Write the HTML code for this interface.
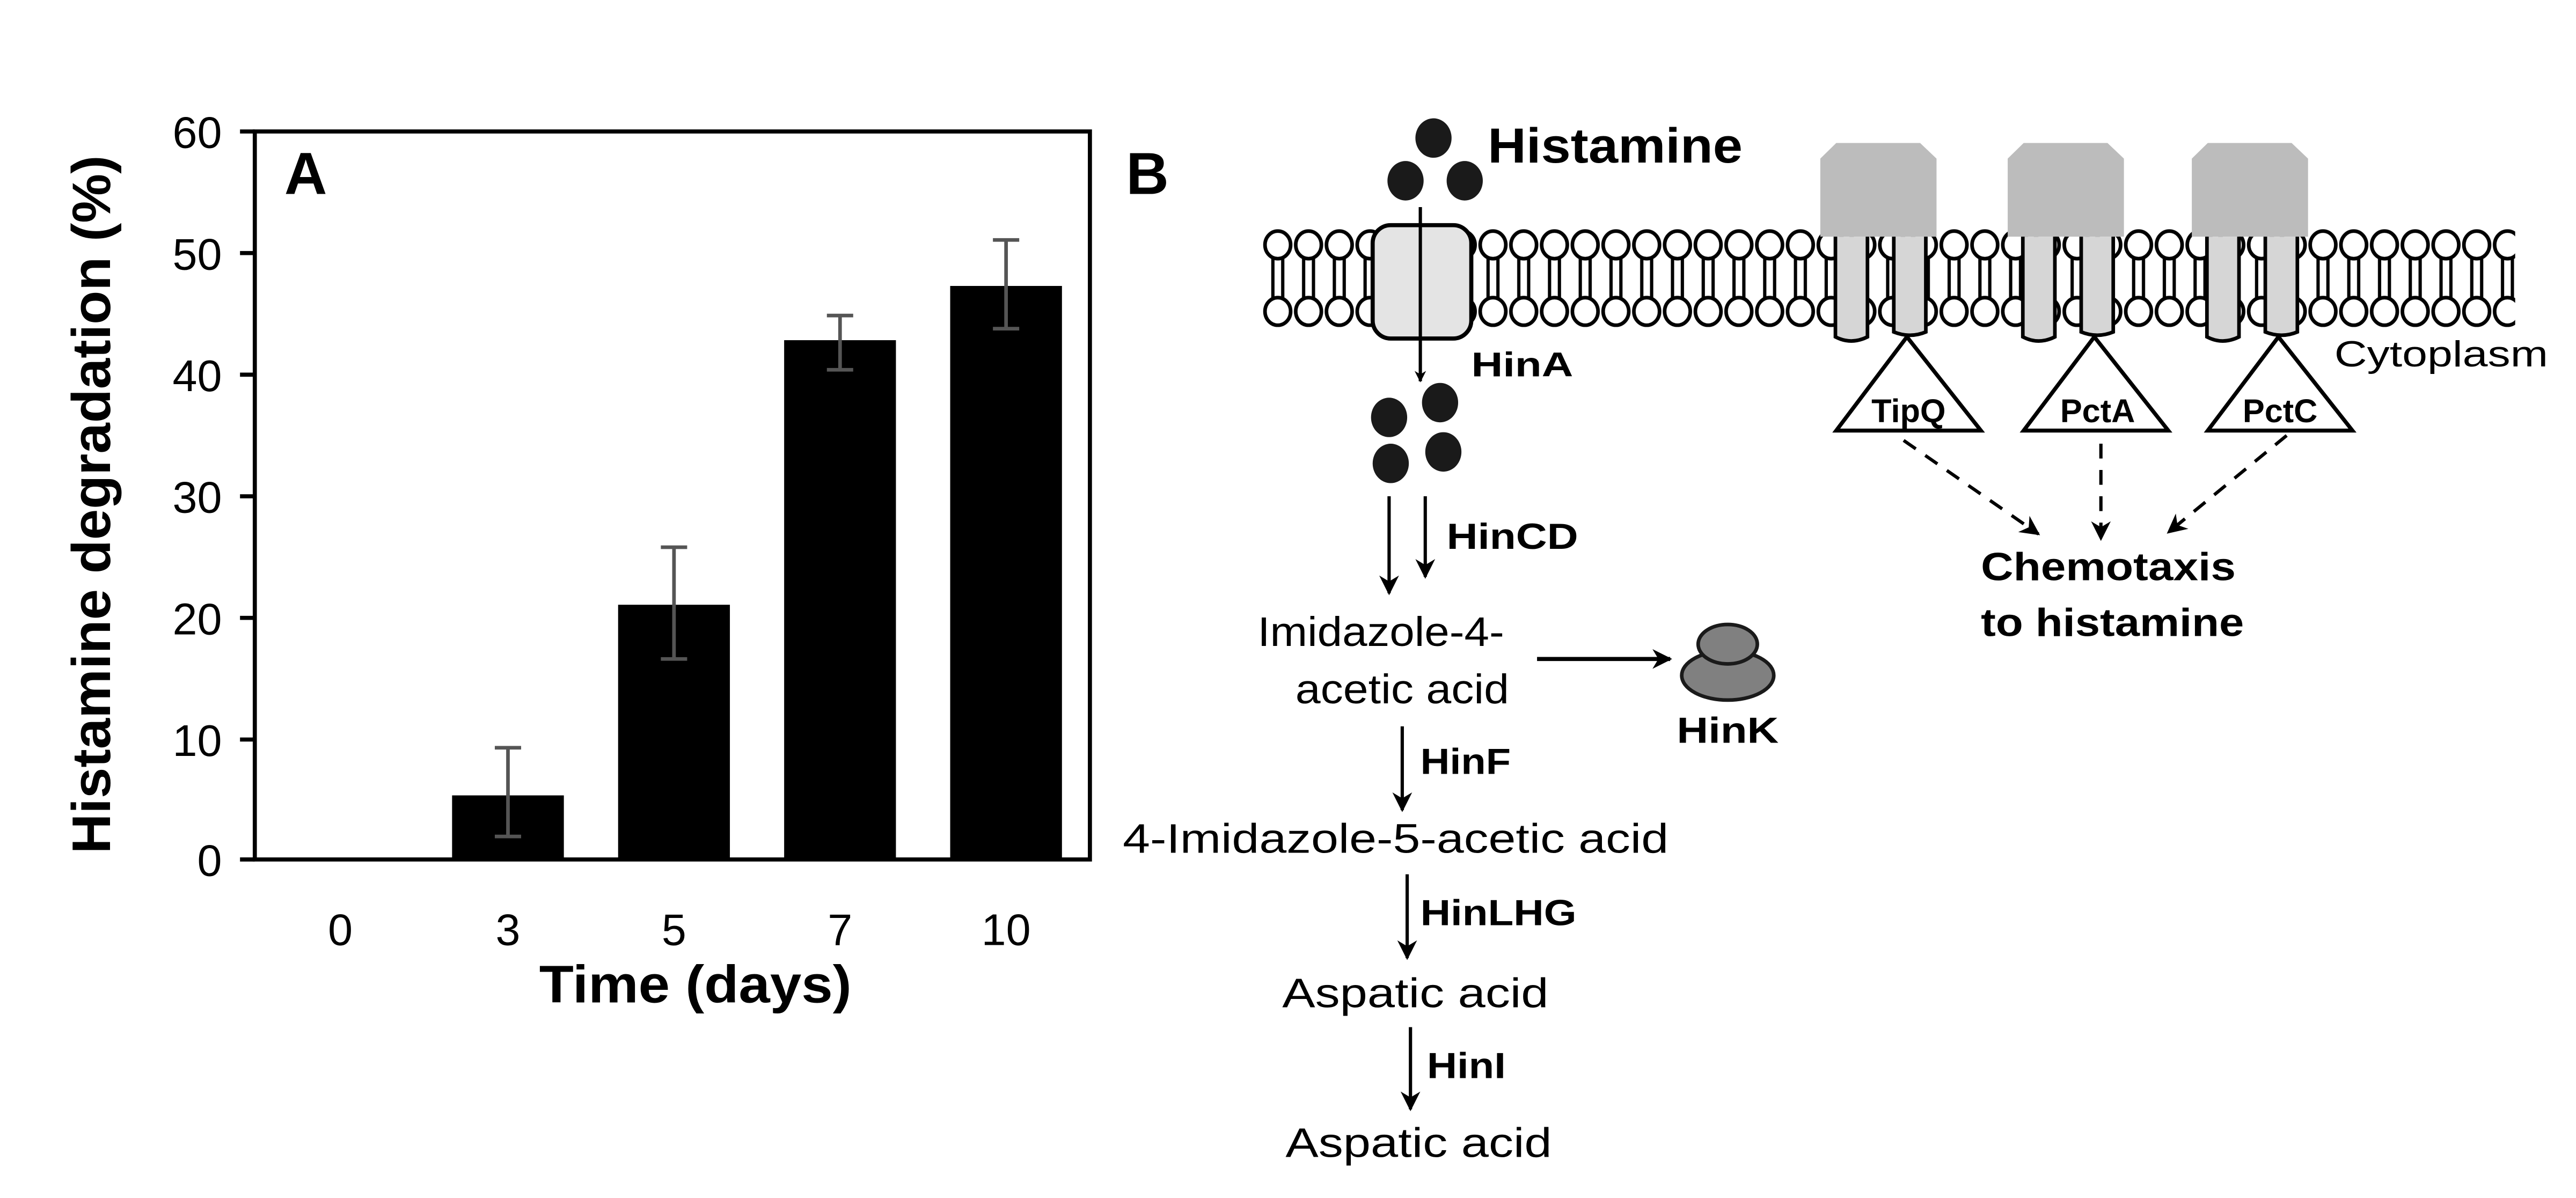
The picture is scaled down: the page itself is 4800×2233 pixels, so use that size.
<!DOCTYPE html>
<html><head><meta charset="utf-8"><style>html,body{margin:0;padding:0;background:#fff}svg{display:block}</style></head>
<body>
<svg width="4800" height="2233" viewBox="0 0 1567 729" preserveAspectRatio="none" xmlns="http://www.w3.org/2000/svg" font-family="Liberation Sans, Arial, sans-serif">
<defs>
<pattern id="lip" x="768" y="130" width="18.7" height="70" patternUnits="userSpaceOnUse">
<line x1="6.3" y1="26" x2="6.3" y2="53" stroke="#000" stroke-width="2"/>
<line x1="12.3" y1="26" x2="12.3" y2="53" stroke="#000" stroke-width="2"/>
<ellipse cx="9.3" cy="19" rx="7.8" ry="8.4" fill="#fff" stroke="#000" stroke-width="2.2"/>
<ellipse cx="9.3" cy="59.5" rx="7.8" ry="8.4" fill="#fff" stroke="#000" stroke-width="2.2"/>
</pattern>
<marker id="ah" viewBox="0 0 10 10" refX="9" refY="5" markerWidth="7" markerHeight="7" orient="auto" markerUnits="userSpaceOnUse">
<path d="M0,0 L10,5 L0,10 L3,5 z" fill="#000"/></marker>
<marker id="ah2" viewBox="0 0 10 10" refX="9" refY="5" markerWidth="12" markerHeight="12" orient="auto" markerUnits="userSpaceOnUse">
<path d="M0,0 L10,5 L0,10 L3,5 z" fill="#000"/></marker>
</defs>

<!-- Panel A -->
<g stroke="#000" stroke-width="2.5" fill="none">
<rect x="155" y="80" width="508" height="443"/>
<line x1="146" y1="80" x2="155" y2="80"/><line x1="146" y1="154" x2="155" y2="154"/>
<line x1="146" y1="228" x2="155" y2="228"/><line x1="146" y1="302" x2="155" y2="302"/>
<line x1="146" y1="376" x2="155" y2="376"/><line x1="146" y1="450" x2="155" y2="450"/>
<line x1="146" y1="523" x2="155" y2="523"/>
</g>
<g font-size="27" text-anchor="end">
<text x="135" y="90">60</text><text x="135" y="164">50</text><text x="135" y="238">40</text>
<text x="135" y="312">30</text><text x="135" y="386">20</text><text x="135" y="460">10</text><text x="135" y="533">0</text>
</g>
<g fill="#000">
<rect x="275" y="484" width="68" height="39"/>
<rect x="376" y="368" width="68" height="155"/>
<rect x="477" y="207" width="68" height="316"/>
<rect x="578" y="174" width="68" height="349"/>
</g>
<g stroke="#555" stroke-width="2.2">
<line x1="309" y1="509" x2="309" y2="455"/><line x1="301" y1="509" x2="317" y2="509"/><line x1="301" y1="455" x2="317" y2="455"/>
<line x1="410" y1="401" x2="410" y2="333"/><line x1="402" y1="401" x2="418" y2="401"/><line x1="402" y1="333" x2="418" y2="333"/>
<line x1="511" y1="225" x2="511" y2="192"/><line x1="503" y1="225" x2="519" y2="225"/><line x1="503" y1="192" x2="519" y2="192"/>
<line x1="612" y1="200" x2="612" y2="146"/><line x1="604" y1="200" x2="620" y2="200"/><line x1="604" y1="146" x2="620" y2="146"/>
</g>
<g font-size="27" text-anchor="middle">
<text x="207" y="575">0</text><text x="309" y="575">3</text><text x="410" y="575">5</text><text x="511" y="575">7</text><text x="612" y="575">10</text>
</g>
<text x="423" y="610" font-size="32" font-weight="bold" text-anchor="middle" textLength="190" lengthAdjust="spacingAndGlyphs">Time (days)</text>
<text transform="translate(67,307) rotate(-90)" font-size="33" font-weight="bold" text-anchor="middle" textLength="425" lengthAdjust="spacingAndGlyphs">Histamine degradation (%)</text>
<text x="173" y="118" font-size="36" font-weight="bold">A</text>

<!-- Panel B -->
<text x="685" y="118" font-size="36" font-weight="bold">B</text>
<rect x="768" y="130" width="762" height="70" fill="url(#lip)"/>
<g fill="#1a1a1a">
<ellipse cx="872" cy="84" rx="11" ry="12"/><ellipse cx="855" cy="110" rx="11" ry="12"/><ellipse cx="891" cy="110" rx="11" ry="12"/>
<ellipse cx="845" cy="254" rx="11" ry="12"/><ellipse cx="876" cy="245" rx="11" ry="12"/>
<ellipse cx="846" cy="282" rx="11" ry="12"/><ellipse cx="878" cy="275" rx="11" ry="12"/>
</g>
<text x="905" y="99" font-size="30" font-weight="bold" textLength="155" lengthAdjust="spacingAndGlyphs">Histamine</text>
<rect x="835" y="137" width="60" height="69" rx="11" fill="#e4e4e4" stroke="#000" stroke-width="2.5"/>
<line x1="864" y1="126" x2="864" y2="232" stroke="#000" stroke-width="2" marker-end="url(#ah)"/>
<text x="895" y="229" font-size="21" font-weight="bold" textLength="62" lengthAdjust="spacingAndGlyphs">HinA</text>

<!-- receptors -->
<g id="rec">
<path d="M1117,87 L1168,87 L1178,96.5 L1178,144 L1107.3,144 L1107.3,96.5 Z" fill="#bcbcbc"/>
<path d="M1116.5,144 L1116.5,205 Q1126,210 1136,205 L1136,144" fill="#d6d6d6" stroke="#000" stroke-width="2.2"/>
<path d="M1152,144 L1152,202 Q1162,206 1171.5,202 L1171.5,144" fill="#d6d6d6" stroke="#000" stroke-width="2.2"/>
<path d="M1160,205 L1205,262 L1117,262 Z" fill="#fff" stroke="#000" stroke-width="2.4"/>
</g>
<use href="#rec" transform="translate(114,0)"/>
<use href="#rec" transform="translate(226,0)"/>
<g font-size="20" font-weight="bold" text-anchor="middle">
<text x="1161" y="257">TipQ</text><text x="1276" y="257">PctA</text><text x="1387" y="257">PctC</text>
</g>
<text x="1420" y="223" font-size="22" textLength="130" lengthAdjust="spacingAndGlyphs">Cytoplasm</text>
<g stroke="#000" stroke-width="2" stroke-dasharray="9,7" fill="none">
<line x1="1158" y1="268" x2="1240" y2="325" marker-end="url(#ah2)"/>
<line x1="1278" y1="270" x2="1278" y2="328" marker-end="url(#ah2)"/>
<line x1="1391" y1="265" x2="1319" y2="324" marker-end="url(#ah2)"/>
</g>
<g font-size="24" font-weight="bold">
<text x="1205" y="353" textLength="155" lengthAdjust="spacingAndGlyphs">Chemotaxis</text>
<text x="1205" y="387" textLength="160" lengthAdjust="spacingAndGlyphs">to histamine</text>
</g>

<!-- pathway -->
<g stroke="#000" stroke-width="2" fill="none">
<line x1="845" y1="302" x2="845" y2="361" marker-end="url(#ah2)"/>
<line x1="867" y1="302" x2="867" y2="351" marker-end="url(#ah2)"/>
<line x1="935" y1="401" x2="1016" y2="401" stroke-width="2.5" marker-end="url(#ah2)"/>
<line x1="853" y1="442" x2="853" y2="493" marker-end="url(#ah2)"/>
<line x1="856" y1="532" x2="856" y2="583" marker-end="url(#ah2)"/>
<line x1="858" y1="625" x2="858" y2="675" marker-end="url(#ah2)"/>
</g>
<text x="880" y="334" font-size="22" font-weight="bold" textLength="80" lengthAdjust="spacingAndGlyphs">HinCD</text>
<g font-size="25">
<text x="765" y="393" textLength="150" lengthAdjust="spacingAndGlyphs">Imidazole-4-</text>
<text x="788" y="428" textLength="130" lengthAdjust="spacingAndGlyphs">acetic acid</text>
<text x="683" y="519" textLength="332" lengthAdjust="spacingAndGlyphs">4-Imidazole-5-acetic acid</text>
<text x="780" y="613" textLength="162" lengthAdjust="spacingAndGlyphs">Aspatic acid</text>
<text x="782" y="704" textLength="162" lengthAdjust="spacingAndGlyphs">Aspatic acid</text>
</g>
<g font-size="22" font-weight="bold">
<text x="864" y="471" textLength="55" lengthAdjust="spacingAndGlyphs">HinF</text>
<text x="864" y="563" textLength="95" lengthAdjust="spacingAndGlyphs">HinLHG</text>
<text x="868" y="656" textLength="48" lengthAdjust="spacingAndGlyphs">HinI</text>
<text x="1020" y="452" textLength="62" lengthAdjust="spacingAndGlyphs">HinK</text>
</g>
<ellipse cx="1051" cy="411" rx="28" ry="15" fill="#808080" stroke="#1a1a1a" stroke-width="2.2"/>
<ellipse cx="1051" cy="392" rx="18" ry="12" fill="#808080" stroke="#1a1a1a" stroke-width="2.2"/>
</svg>
</body></html>
